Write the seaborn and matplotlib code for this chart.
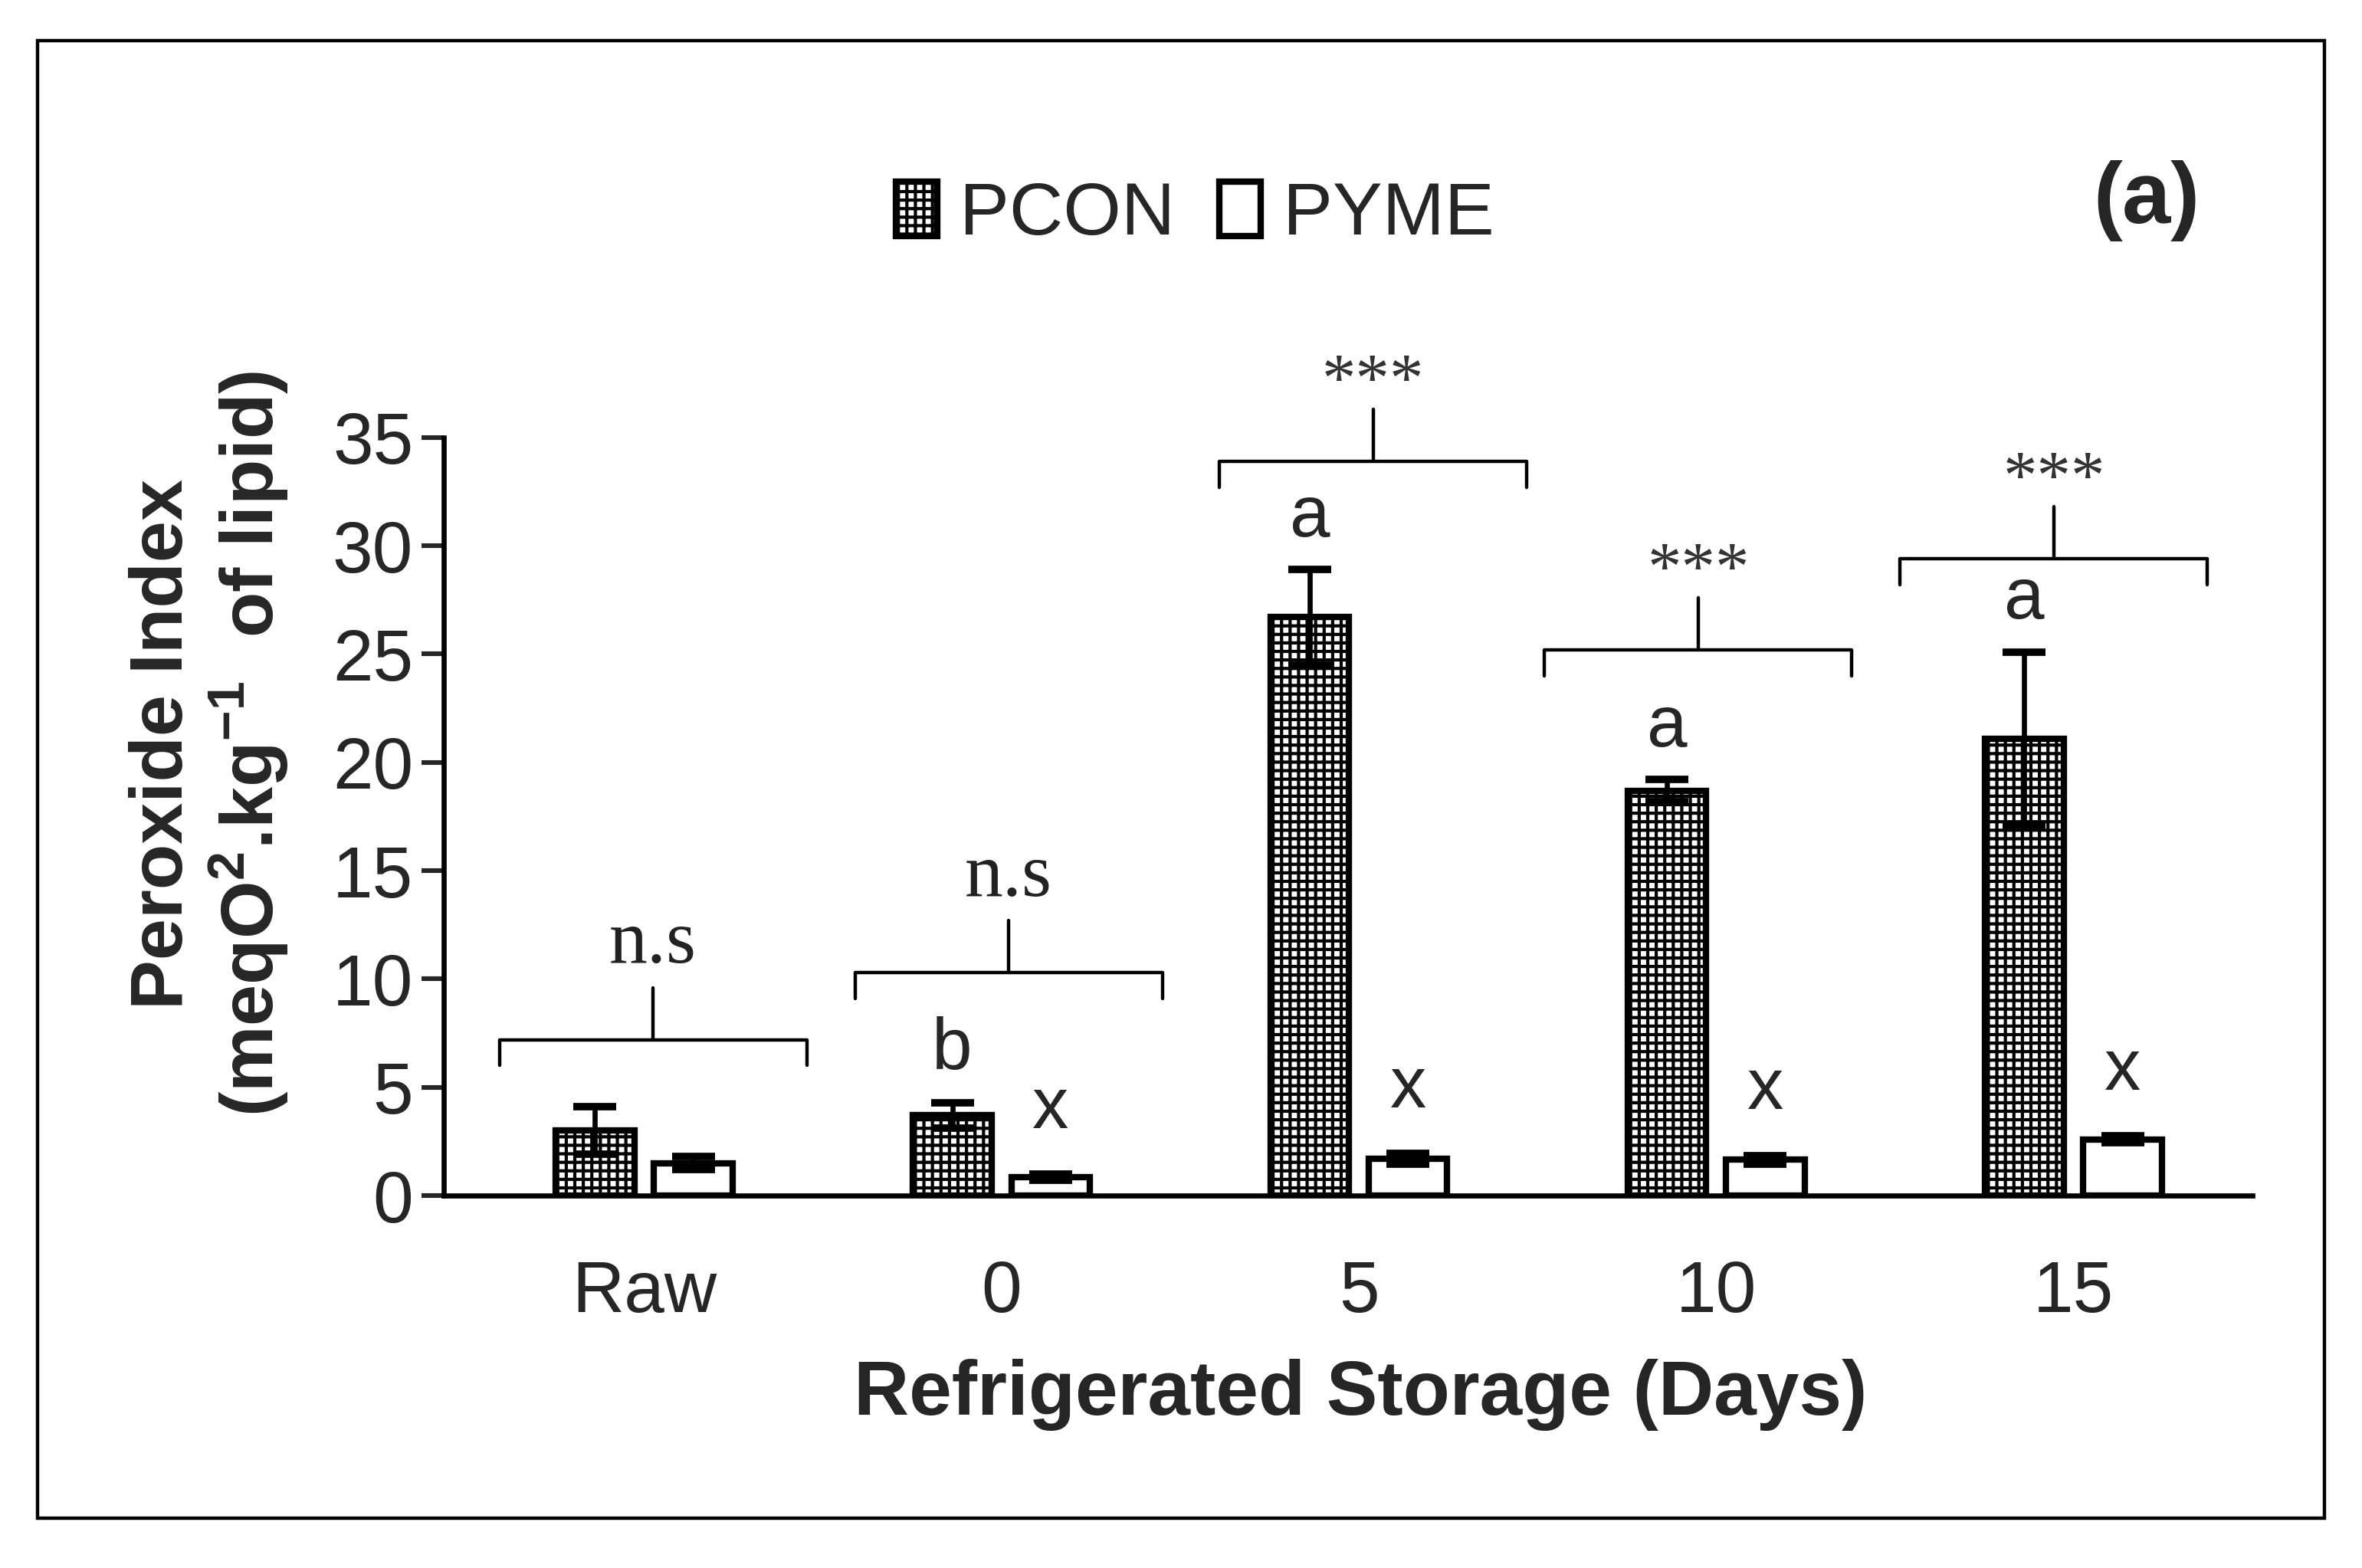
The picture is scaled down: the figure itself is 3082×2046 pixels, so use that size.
import matplotlib
matplotlib.use("Agg")
import matplotlib.pyplot as plt
from matplotlib.patches import Patch, Rectangle
import seaborn as sns
import pandas as pd

# data
days = ["Raw", "0", "5", "10", "15"]
pcon_mean = [3.0, 3.7, 26.7, 18.7, 21.1]
pcon_sd = [1.1, 0.6, 2.2, 0.5, 4.0]
pyme_mean = [1.5, 0.85, 1.7, 1.65, 2.6]
pyme_sd = [0.3, 0.15, 0.25, 0.2, 0.15]
pcon_letters = ["", "b", "a", "a", "a"]
pyme_letters = ["", "x", "x", "x", "x"]
sig_labels = ["n.s", "n.s", "***", "***", "***"]
bracket_y = [7.2, 10.3, 33.9, 25.2, 29.4]
bracket_shift = [0.025, 0.02, 0.04, -0.05, -0.055]

sns.set_style("white")
plt.rcParams["font.family"] = ["Liberation Sans", "DejaVu Sans"]
plt.rcParams["mathtext.fontset"] = "custom"
plt.rcParams["mathtext.rm"] = "Liberation Sans"
plt.rcParams["mathtext.bf"] = "Liberation Sans:bold"
plt.rcParams["hatch.linewidth"] = 1.5

df = pd.DataFrame({
    "day": days * 2,
    "value": pcon_mean + pyme_mean,
    "group": ["PCON"] * len(days) + ["PYME"] * len(days),
})
sds = {"PCON": pcon_sd, "PYME": pyme_sd}

fig = plt.figure(figsize=(15.41, 10.23), dpi=200)
ax = fig.add_axes([0.188, 0.2375, 0.7655, 0.4835])

sns.barplot(data=df, x="day", y="value", hue="group", order=days,
            hue_order=["PCON", "PYME"], width=0.55, gap=0.2,
            errorbar=None, ax=ax, legend=False)

for cont, grp in zip(ax.containers, ["PCON", "PYME"]):
    for bar, sd in zip(cont, sds[grp]):
        bar.set_edgecolor("black")
        bar.set_linewidth(3)
        bar.set_facecolor("white")
        if grp == "PCON":
            bar.set_hatch("+++")
        cx = bar.get_x() + bar.get_width() / 2
        ax.errorbar(cx, bar.get_height(), yerr=sd, color="black",
                    elinewidth=2.4, capsize=10, capthick=3.5, zorder=5)

# letters above the bars
for bar, lab, sd in zip(ax.containers[0], pcon_letters, pcon_sd):
    if lab:
        ax.text(bar.get_x() + bar.get_width() / 2, bar.get_height() + sd + 2.4,
                lab, ha="center", va="center", fontsize=34)
for bar, lab, sd in zip(ax.containers[1], pyme_letters, pyme_sd):
    if lab:
        ax.text(bar.get_x() + bar.get_width() / 2, bar.get_height() + sd + 3.0,
                lab, ha="center", va="center", fontsize=34)

# significance brackets
for i, (yb, lab, sh) in enumerate(zip(bracket_y, sig_labels, bracket_shift)):
    c = i + sh
    ax.plot([c - 0.43, c - 0.43, c + 0.43, c + 0.43],
            [yb - 1.2, yb, yb, yb - 1.2], color="black", lw=1.6,
            clip_on=False)
    ax.plot([c, c], [yb, yb + 2.4], color="black", lw=1.6, clip_on=False)
    if lab == "***":
        ax.text(c, yb + 3.6, lab, ha="center", va="center", fontsize=32,
                family="Liberation Serif", color="#333333")
    else:
        ax.text(c, yb + 4.4, lab, ha="center", va="center", fontsize=36,
                family="Liberation Serif", color="#222222")

ax.set_ylim(0, 35)
ax.set_xlim(-0.56, 4.5)
ax.set_yticks(range(0, 36, 5))
ax.tick_params(axis="y", length=10.5, width=2.2, labelsize=34, pad=4,
               direction="out", left=True)
ax.tick_params(axis="x", length=0, labelsize=34, pad=30)
for s in ["top", "right"]:
    ax.spines[s].set_visible(False)
for s in ["left", "bottom"]:
    ax.spines[s].set_linewidth(2.4)
    ax.spines[s].set_color("black")

ax.set_ylabel("")
ax.set_xlabel("Refrigerated Storage (Days)", fontsize=36, fontweight="bold",
              va="center")
ax.xaxis.set_label_coords(0.507, -0.263)

fig.text(0.0887, 0.5255,
         "Peroxide Index\n(meqO$^{\\mathbf{2}}$.kg$^{\\mathbf{-1}}$  of lipid)",
         rotation=90, ha="center", va="center", fontsize=35,
         fontweight="bold", multialignment="center", linespacing=1.15)

handles = [Patch(facecolor="white", edgecolor="black", hatch="+++",
                 linewidth=3, label="PCON"),
           Patch(facecolor="white", edgecolor="black", linewidth=3,
                 label="PYME")]
fig.legend(handles=handles, loc="center", bbox_to_anchor=(0.506, 0.8626),
           ncol=2, frameon=False, fontsize=35, handlelength=0.55,
           handleheight=0.75, handletextpad=0.3, columnspacing=0.6)

fig.text(0.9088, 0.872, "(a)", fontsize=41, fontweight="bold",
         ha="center", va="center")

fig.patches.append(Rectangle((0.016, 0.032), 0.968, 0.942, fill=False,
                             edgecolor="black", linewidth=1.6,
                             transform=fig.transFigure, figure=fig))

fig.savefig("out.png", dpi=200)
